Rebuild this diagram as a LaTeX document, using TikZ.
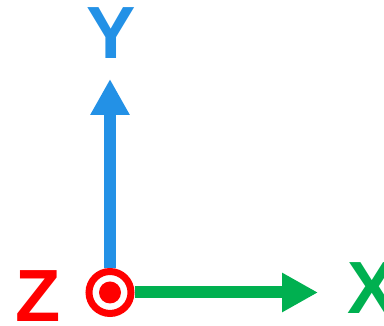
\documentclass[tikz,border=0pt]{standalone}
\usepackage{fontspec}
\setmainfont{Liberation Sans}
\usepackage{tikz}
\usetikzlibrary{arrows.meta,positioning}
\definecolor{axisblue}{RGB}{35,145,230}
\definecolor{axisgreen}{RGB}{0,176,80}
\definecolor{axisred}{RGB}{255,0,0}
\tikzset{
  axis/.style={line width=12pt,-{Triangle[length=36pt,width=37pt]}},
  axislabel/.style={inner sep=0pt,font=\bfseries\fontsize{74}{74}\selectfont}
}
\begin{document}
\begin{tikzpicture}[x=1pt,y=1pt]
\useasboundingbox (0,0) rectangle (384,326);
\node[circle,draw=axisred,line width=7pt,minimum size=42pt,inner sep=0pt] (O) at (110,33.5) {};
\node[circle,fill=axisred,minimum size=22pt,inner sep=0pt] (dot) at (O.center) {};
\coordinate (Ytip) at (110,247);
\coordinate (Xtip) at (318,33.5);
\draw[axis,axisblue] (O) -- (Ytip);
\draw[axis,axisgreen] (O) -- (Xtip);
\node[axislabel,text=axisblue] (Y) at (111.5,292.5) {Y};
\node[axislabel,text=axisgreen] (X) at (372.5,37.5) {X};
\node[axislabel,text=axisred] (Z) at (38.5,30) {Z};
\end{tikzpicture}
\end{document}
